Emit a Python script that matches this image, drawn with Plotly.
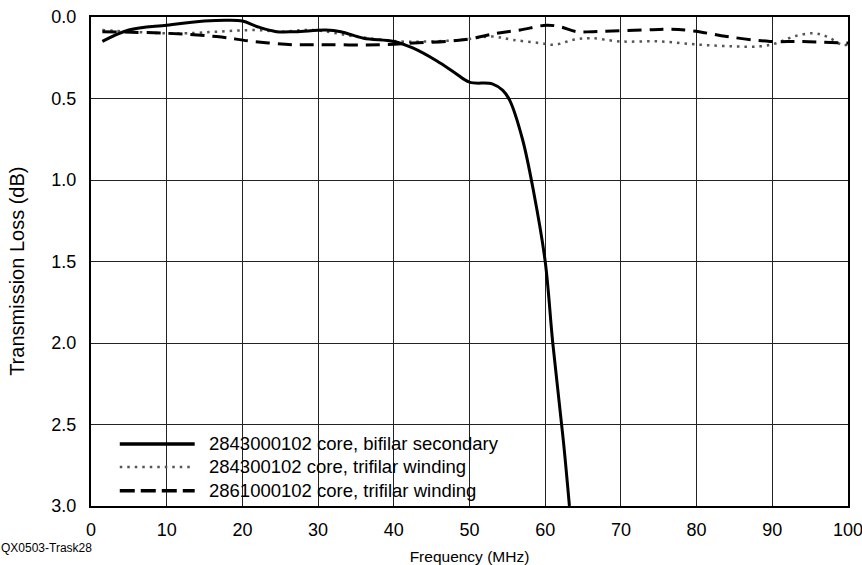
import plotly.graph_objects as go

# Data
bif_x = [1.5, 5, 10, 15, 18, 20, 22, 24.5, 27, 31, 33, 36, 40, 42.5, 45.7, 48, 50, 53, 54.4, 55.3, 57, 58.5, 60, 61, 62.4, 63.2]
bif_y = [0.15, 0.08, 0.05, 0.025, 0.02, 0.025, 0.06, 0.09, 0.09, 0.08, 0.09, 0.13, 0.15, 0.19, 0.27, 0.34, 0.40, 0.41, 0.45, 0.51, 0.75, 1.08, 1.50, 2.00, 2.60, 3.00]

tri_x = [1.5, 5, 10, 12.7, 16.6, 21.9, 25, 29.3, 35, 40.8, 44.8, 49, 53, 55.7, 59.3, 61.3, 63.7, 66, 69.9, 75.2, 80.4, 85, 88.4, 90.6, 92.8, 95.4, 97.2, 99.2, 100]
tri_y = [0.08, 0.09, 0.10, 0.10, 0.09, 0.08, 0.09, 0.08, 0.12, 0.15, 0.15, 0.14, 0.12, 0.14, 0.16, 0.17, 0.14, 0.13, 0.15, 0.15, 0.17, 0.18, 0.18, 0.16, 0.12, 0.10, 0.12, 0.17, 0.17]

dash_x = [1.5, 10, 16.6, 21.4, 26.7, 29.3, 38.2, 42.6, 49.2, 53.6, 56.7, 60.2, 62, 64.2, 66.3, 72.9, 76.5, 79.5, 84, 89.7, 93.7, 100]
dash_y = [0.09, 0.10, 0.12, 0.15, 0.17, 0.17, 0.17, 0.16, 0.14, 0.10, 0.08, 0.05, 0.06, 0.09, 0.09, 0.08, 0.075, 0.085, 0.12, 0.15, 0.15, 0.16]

names = ["2843000102 core, bifilar secondary",
         "284300102 core, trifilar winding",
         "2861000102 core, trifilar winding"]

x_ticks = [0, 10, 20, 30, 40, 50, 60, 70, 80, 90, 100]
y_ticks = [0.0, 0.5, 1.0, 1.5, 2.0, 2.5, 3.0]

FONT = "Liberation Sans, Arial, sans-serif"

fig = go.Figure()
fig.add_trace(go.Scatter(x=tri_x, y=tri_y, mode="lines", line=dict(color="#555555", width=2.5, dash="2.5px,5px"), line_shape="spline", showlegend=False))
fig.add_trace(go.Scatter(x=dash_x, y=dash_y, mode="lines", line=dict(color="black", width=3, dash="14px,8px"), line_shape="spline", showlegend=False))
fig.add_trace(go.Scatter(x=bif_x, y=bif_y, mode="lines", line=dict(color="black", width=3), line_shape="spline", showlegend=False))

# Custom legend (lines + text)
styles = [dict(color="black", width=3.5),
          dict(color="#555555", width=2.5, dash="2.5px,5px"),
          dict(color="black", width=3.5, dash="15px,6px")]
rows = [0.127, 0.080, 0.031]
for nm, st, yy in zip(names, styles, rows):
    fig.add_shape(type="line", xref="paper", yref="paper", x0=0.038, x1=0.137, y0=yy, y1=yy, line=st)
    fig.add_annotation(xref="paper", yref="paper", x=0.153, y=yy, text=nm, showarrow=False,
                       xanchor="left", yanchor="middle", font=dict(size=18.5, color="black", family=FONT))

fig.add_annotation(xref="paper", yref="paper", x=-0.121, y=-0.086, text="QX0503-Trask28", showarrow=False,
                   xanchor="left", yanchor="middle", font=dict(size=12, color="black", family=FONT))

# Y axis title
fig.add_annotation(xref="paper", yref="paper", x=-0.097, y=0.48, text="Transmission Loss (dB)", showarrow=False,
                   textangle=-90, xanchor="center", yanchor="middle", font=dict(size=20, color="black", family=FONT))

fig.update_layout(
    width=862, height=565,
    margin=dict(l=91, r=14, t=17, b=59),
    paper_bgcolor="white", plot_bgcolor="white",
    font=dict(family=FONT, size=18, color="black"),
    xaxis=dict(range=[0, 100], tickvals=x_ticks, ticktext=[str(v) for v in x_ticks],
               showgrid=True, gridcolor="#222222", gridwidth=1,
               showline=True, linecolor="black", linewidth=2, mirror=True,
               ticks="", zeroline=False, ticklabelstandoff=6, automargin=False,
               ticklabeloverflow="allow",
               title=dict(text="Frequency (MHz)", font=dict(size=15.5), standoff=14)),
    yaxis=dict(range=[3, 0], tickvals=y_ticks, ticktext=[f"{v:.1f}" for v in y_ticks],
               showgrid=True, gridcolor="#222222", gridwidth=1,
               showline=True, linecolor="black", linewidth=2, mirror=True,
               ticks="", zeroline=False, ticklabelstandoff=9, automargin=False,
               ticklabeloverflow="allow"),
)

fig.write_html("out.html")
